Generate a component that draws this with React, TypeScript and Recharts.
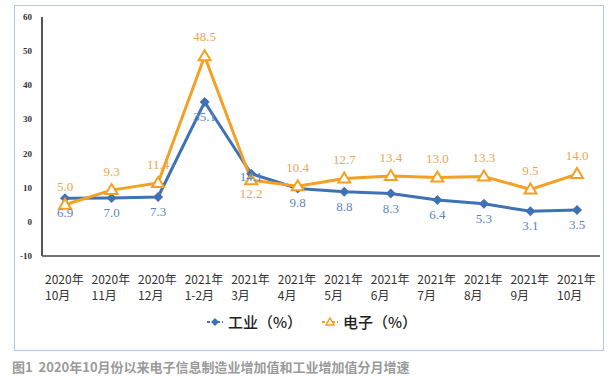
import React from 'react';
import { LineChart, Line, XAxis, YAxis, LabelList } from 'recharts';

const yearLabels = ['2020年', '2020年', '2020年', '2021年', '2021年', '2021年', '2021年', '2021年', '2021年', '2021年', '2021年', '2021年'];
const monthLabels = ['10月', '11月', '12月', '1-2月', '3月', '4月', '5月', '6月', '7月', '8月', '9月', '10月'];
const industry = [6.9, 7.0, 7.3, 35.1, 14.1, 9.8, 8.8, 8.3, 6.4, 5.3, 3.1, 3.5];
const electronics = [5.0, 9.3, 11.4, 48.5, 12.2, 10.4, 12.7, 13.4, 13.0, 13.3, 9.5, 14.0];
const yTicks = [-10, 0, 10, 20, 30, 40, 50, 60];

const data = monthLabels.map((m, i) => ({
  key: `${yearLabels[i]}${m}`,
  idx: i,
  industry: industry[i],
  electronics: electronics[i],
}));

const BLUE = '#3f72b5';
const ORANGE = '#f4a023';
const BLUE_TXT = '#5b86c0';
const ORANGE_TXT = '#eba750';

const XTick = (props: any) => {
  const { x, y, payload } = props;
  const i = payload.index;
  const ff = "'Noto Sans CJK SC', sans-serif";
  return (
    <g transform={`translate(${x},${y})`}>
      <text x={-20} y={20} textAnchor="start" fill="#333" fontSize={12} fontFamily={ff}>{yearLabels[i]}</text>
      <text x={-20} y={36} textAnchor="start" fill="#333" fontSize={12} fontFamily={ff}>{monthLabels[i]}</text>
    </g>
  );
};

const YTick = (props: any) => {
  const { x, y, payload } = props;
  return (
    <text x={x} y={y} dy={3} textAnchor="end" fill="#333" fontSize={9} fontWeight="bold" fontFamily="'Liberation Serif', serif">
      {payload.value}
    </text>
  );
};

const makeLabel = (color: string, offsets: number[]) => (props: any) => {
  const { x, y, value, index } = props;
  const dy = offsets[index];
  return (
    <text x={x} y={y + dy} dy={4} textAnchor="middle" fill={color} fontSize={13} fontFamily="'Liberation Serif', serif">
      {Number(value).toFixed(1)}
    </text>
  );
};

const blueOffsets = [15, 15, 15, 15, 3, 15, 15, 15, 15, 15, 15, 15];
const orangeOffsets = [-18, -18, -18, -19, 14, -18, -18, -18, -18, -18, -18, -18];

const Diamond = (props: any) => {
  const { cx, cy } = props;
  if (cx == null || cy == null) return null;
  const s = 5;
  return <path d={`M${cx},${cy - s}L${cx + s},${cy}L${cx},${cy + s}L${cx - s},${cy}Z`} fill={BLUE} />;
};

const Tri = (props: any) => {
  const { cx, cy } = props;
  if (cx == null || cy == null) return null;
  return <path d={`M${cx},${cy - 6}L${cx + 6},${cy + 4}L${cx - 6},${cy + 4}Z`} fill="#fff" stroke={ORANGE} strokeWidth={2} />;
};

export default function App() {
  return (
    <div style={{ position: 'absolute', left: 0, top: 0, width: 616, height: 376, background: '#fff', overflow: 'hidden' }}>
      <div style={{ position: 'absolute', left: 14, top: 5, width: 590, height: 346, border: '1.5px solid #b3c7e3', boxSizing: 'border-box' }} />
      <LineChart width={616} height={376} data={data} margin={{ top: 17, right: 16, left: 12, bottom: 80 }}>
        <XAxis dataKey="key" interval={0} tick={<XTick />} tickLine={false} axisLine={{ stroke: '#444', strokeWidth: 1.5 }} height={40} padding={{ left: 23, right: 23 }} />
        <YAxis domain={[-10, 60]} ticks={yTicks} tick={<YTick />} tickLine={false} axisLine={{ stroke: '#555', strokeWidth: 2 }} width={30} tickMargin={4} />
        <Line type="linear" dataKey="industry" stroke={BLUE} strokeWidth={3} dot={<Diamond />} isAnimationActive={false}>
          <LabelList dataKey="industry" content={makeLabel(BLUE_TXT, blueOffsets)} />
        </Line>
        <Line type="linear" dataKey="electronics" stroke={ORANGE} strokeWidth={3} dot={<Tri />} isAnimationActive={false}>
          <LabelList dataKey="electronics" content={makeLabel(ORANGE_TXT, orangeOffsets)} />
        </Line>
      </LineChart>
      <div style={{ position: 'absolute', left: 0, top: 311, width: 616, display: 'flex', justifyContent: 'center', fontFamily: "'Noto Sans CJK SC', sans-serif", fontSize: 15, color: '#222', fontWeight: 500 }}>
        <div style={{ display: 'flex', alignItems: 'center', marginLeft: 8 }}>
          <svg width={16} height={12}>
            <line x1={0} y1={6} x2={16} y2={6} stroke={BLUE} strokeWidth={2} strokeDasharray="3 2" />
            <path d="M8,2L12,6L8,10L4,6Z" fill={BLUE} />
          </svg>
          <span style={{ marginLeft: 5 }}>工业（%）</span>
        </div>
        <div style={{ display: 'flex', alignItems: 'center', marginLeft: 20 }}>
          <svg width={16} height={12}>
            <line x1={0} y1={6} x2={16} y2={6} stroke={ORANGE} strokeWidth={2} strokeDasharray="3 2" />
            <path d="M8,2L12,9L4,9Z" fill="#fff" stroke={ORANGE} strokeWidth={1.5} />
          </svg>
          <span style={{ marginLeft: 5 }}>电子（%）</span>
        </div>
      </div>
      <div style={{ position: 'absolute', left: 12, top: 359, lineHeight: '15px', fontFamily: "'Noto Sans CJK SC', sans-serif", fontSize: 13, fontWeight: 'bold', color: '#9a9a9a', whiteSpace: 'pre' }}>
        {'图1  2020年10月份以来电子信息制造业增加值和工业增加值分月增速'}
      </div>
    </div>
  );
}
